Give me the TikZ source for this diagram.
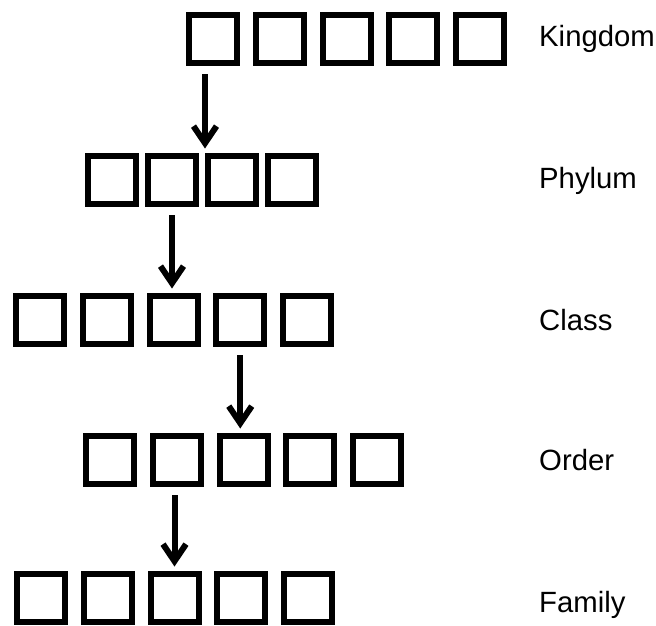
\documentclass[tikz,border=0pt]{standalone}
\usepackage{fontspec}
\setmainfont{Liberation Sans}
\usetikzlibrary{arrows.meta, positioning}

\begin{document}
\begin{tikzpicture}[
  x=1pt, y=-1pt,
  cell/.style = {draw, line width=6pt, minimum size=48pt, inner sep=0pt},
  rank/.style = {anchor=west, inner sep=0pt, font=\fontsize{29.3}{33}\selectfont},
  arrow/.style = {line width=6pt, shorten <=8pt, shorten >=4.5pt,
                  -{Straight Barb[length=17pt, width=23pt]}},
  node distance=12.75pt
]
  \useasboundingbox (0,0) rectangle (656,625);

  % Kingdom row
  \node[cell] (k1) at (213,39) {};
  \foreach \i [count=\j from 2] in {1,...,4}
    \node[cell, right=of k\i] (k\j) {};
  \node[rank] (kingdom) at (539,39) {Kingdom};

  % Phylum row, packed closer
  \node[cell] (p1) at (112,180) {};
  \foreach \i [count=\j from 2] in {1,...,3}
    \node[cell, right=6pt of p\i] (p\j) {};
  \node[rank] (phylum) at (539,181) {Phylum};

  % Class row
  \node[cell] (c1) at (40,320) {};
  \foreach \i [count=\j from 2] in {1,...,4}
    \node[cell, right=of c\i] (c\j) {};
  \node[rank] (class) at (539,320) {Class};

  % Order row
  \node[cell] (o1) at (110,460) {};
  \foreach \i [count=\j from 2] in {1,...,4}
    \node[cell, right=of o\i] (o\j) {};
  \node[rank] (order) at (539,460) {Order};

  % Family row
  \node[cell] (f1) at (41,598) {};
  \foreach \i [count=\j from 2] in {1,...,4}
    \node[cell, right=of f\i] (f\j) {};
  \node[rank] (family) at (539,605) {Family};

  % arrows down the ranks
  \draw[arrow] (k1.south -| p3.west) -- (p3.north west);
  \draw[arrow] (p2.south) -- (p2.south |- c3.north);
  \draw[arrow] (c4.south) -- (c4.south |- o3.north);
  \draw[arrow] (o2.south -| f3.north) -- (f3.north);

\end{tikzpicture}
\end{document}
